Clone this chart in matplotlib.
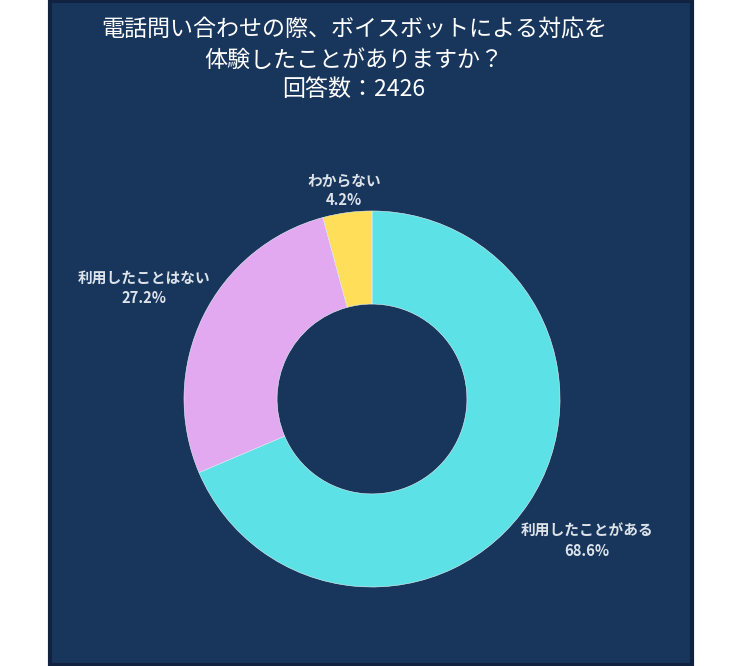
import numpy as np
import matplotlib.pyplot as plt
from matplotlib.patches import Rectangle

plt.rcParams['font.family'] = ['Noto Sans CJK JP', 'DejaVu Sans']

# data
labels = ['利用したことがある', '利用したことはない', 'わからない']
shares = [68.6, 27.2, 4.2]
colors = ['#5ce1e6', '#e2a9f1', '#ffde59']
title = '電話問い合わせの際、ボイスボットによる対応を\n体験したことがありますか？\n回答数：2426'

W, H = 742, 666
fig = plt.figure(figsize=(W / 100, H / 100), dpi=100)
fig.patch.set_facecolor('white')
ax = fig.add_axes([0, 0, 1, 1])

# navy panel with darker border
ax.add_patch(Rectangle((50, 1), 642, 664, facecolor='#18365c',
                       edgecolor='#10223f', linewidth=3, zorder=0))

cx, cy, r = 372, H - 399, 188
wedges, _ = ax.pie(shares, colors=colors, startangle=90, counterclock=False,
                   center=(cx, cy), radius=r, frame=True,
                   wedgeprops=dict(width=r * 0.495, edgecolor='#e8f4f8',
                                   linewidth=0.4))
ax.set_xlim(0, W)
ax.set_ylim(0, H)
ax.set_aspect('equal')
ax.axis('off')

# labels outside the ring
dist = [1.37, 1.35, 1.12]
for w, lab, s, d in zip(wedges, labels, shares, dist):
    ang = np.deg2rad((w.theta1 + w.theta2) / 2)
    x = cx + d * r * np.cos(ang)
    y = cy + d * r * np.sin(ang)
    ax.text(x, y, '%s\n%.1f%%' % (lab, s), ha='center', va='center',
            fontsize=10.6, color='#dde3ea', fontweight='bold', linespacing=1.3)

ax.text(354, H - 60, title, ha='center', va='center', fontsize=16.6,
        color='white', linespacing=1.38)

fig.savefig('out.png', dpi=100, facecolor=fig.get_facecolor())
